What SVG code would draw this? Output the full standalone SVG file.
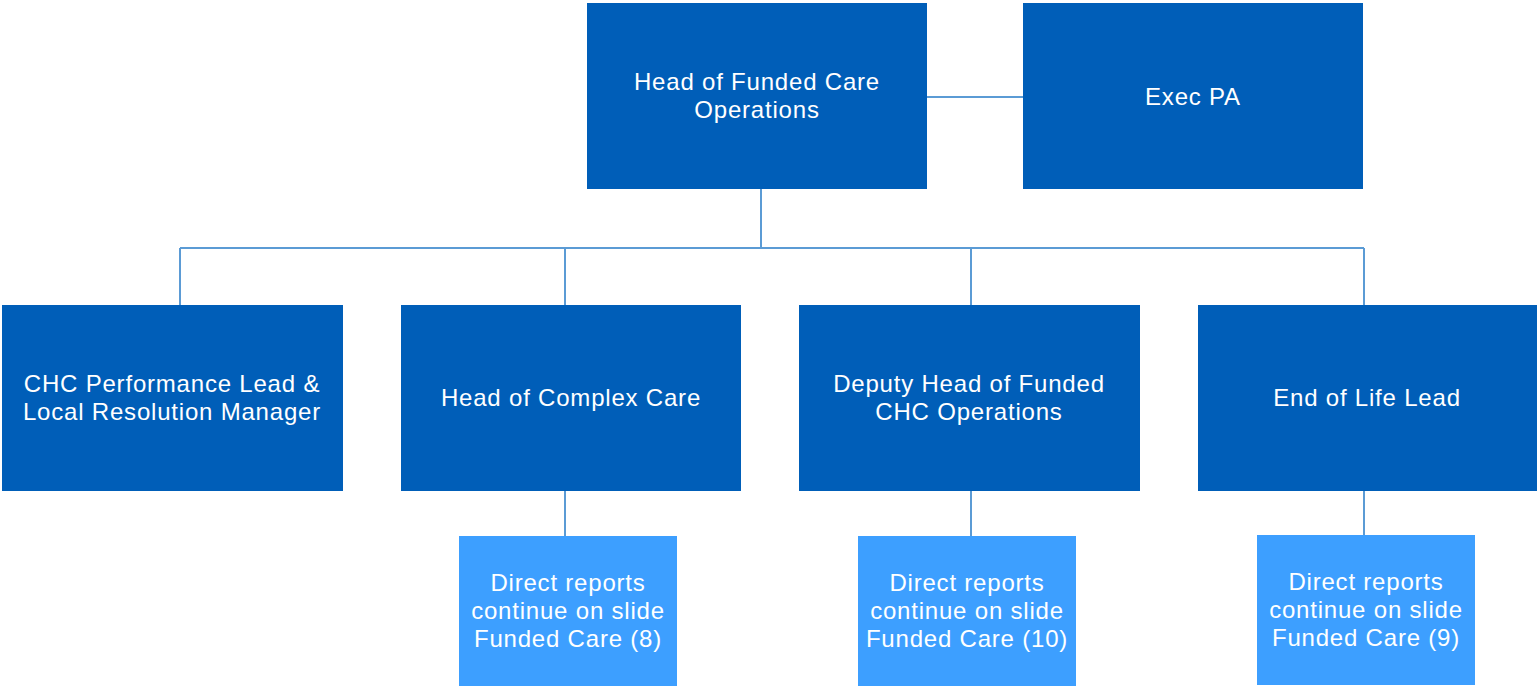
<svg xmlns="http://www.w3.org/2000/svg" width="1537" height="688" viewBox="0 0 1537 688">
<style>
.main{fill:#005EB8}
.sub{fill:#3D9FFF}
.t{font-family:"Liberation Sans",Arial,sans-serif;font-size:24px;letter-spacing:0.8px;fill:#fff;text-anchor:middle}
.c{stroke:#5B9BD5;stroke-width:2;fill:none}
</style>
<rect width="1537" height="688" fill="#fff"/>
<g id="connectors">
<path class="c" d="M927 97H1023"/>
<path class="c" d="M761 189V248"/>
<path class="c" d="M180 248H1364"/>
<path class="c" d="M180 248V305M565 248V305M971 248V305M1364 248V305"/>
<path class="c" d="M565 491V536M971 491V536M1364 491V535"/>
</g>
<g id="head"><rect class="main" x="587" y="3" width="340" height="186"/><text class="t" x="757" y="90">Head of Funded Care</text><text class="t" x="757" y="118">Operations</text></g>
<g id="execpa"><rect class="main" x="1023" y="3" width="340" height="186"/><text class="t" x="1193" y="105">Exec PA</text></g>
<g id="chc"><rect class="main" x="2" y="305" width="341" height="186"/><text class="t" x="172" y="392">CHC Performance Lead &amp;</text><text class="t" x="172" y="420">Local Resolution Manager</text></g>
<g id="complex"><rect class="main" x="401" y="305" width="340" height="186"/><text class="t" x="571" y="406">Head of Complex Care</text></g>
<g id="deputy"><rect class="main" x="799" y="305" width="341" height="186"/><text class="t" x="969" y="392">Deputy Head of Funded</text><text class="t" x="969" y="420">CHC Operations</text></g>
<g id="eol"><rect class="main" x="1198" y="305" width="339" height="186"/><text class="t" x="1367" y="406">End of Life Lead</text></g>
<g id="dr8"><rect class="sub" x="459" y="536" width="218" height="150"/><text class="t" x="568" y="591">Direct reports</text><text class="t" x="568" y="619">continue on slide</text><text class="t" x="568" y="647">Funded Care (8)</text></g>
<g id="dr10"><rect class="sub" x="858" y="536" width="218" height="150"/><text class="t" x="967" y="591">Direct reports</text><text class="t" x="967" y="619">continue on slide</text><text class="t" x="967" y="647">Funded Care (10)</text></g>
<g id="dr9"><rect class="sub" x="1257" y="535" width="218" height="150"/><text class="t" x="1366" y="590">Direct reports</text><text class="t" x="1366" y="618">continue on slide</text><text class="t" x="1366" y="646">Funded Care (9)</text></g>
</svg>
